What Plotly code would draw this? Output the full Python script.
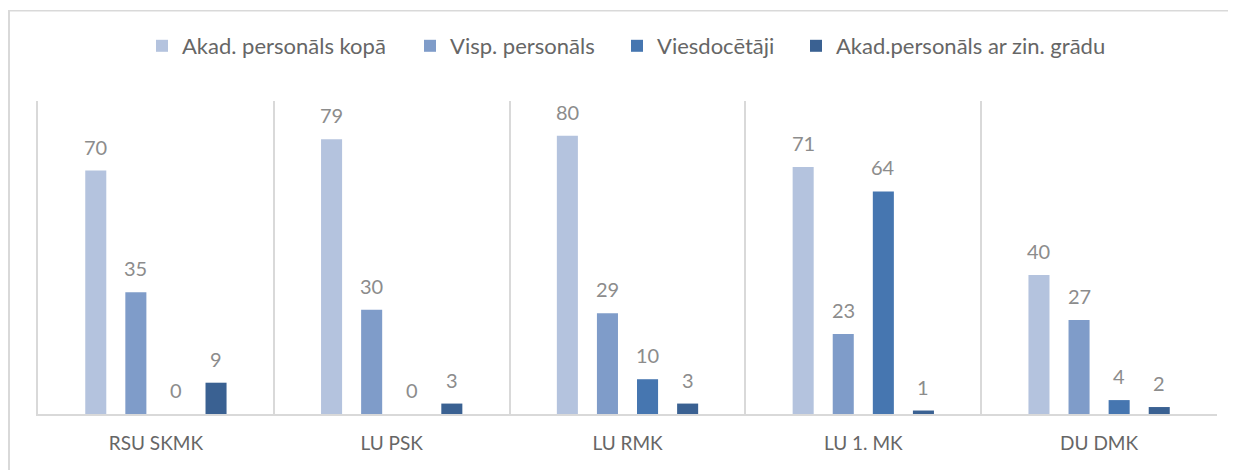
import plotly.graph_objects as go

categories = ["RSU SKMK", "LU PSK", "LU RMK", "LU 1. MK", "DU DMK"]
series_names = ["Akad. personāls kopā", "Visp. personāls", "Viesdocētāji", "Akad.personāls ar zin. grādu"]
akad_kopa = [70, 79, 80, 71, 40]
visp_pers = [35, 30, 29, 23, 27]
viesdoc = [0, 0, 10, 64, 4]
akad_zin = [9, 3, 3, 1, 2]
colors = ["#B4C3DE", "#7F9CC9", "#4676B0", "#3A6192"]
series_vals = [akad_kopa, visp_pers, viesdoc, akad_zin]

# page has an 8px body margin; positions below are in figure pixels
W, H = 1236, 470
ML, MR, MT, MB = 30, 27, 93, 64
PW, PH = W - ML - MR, H - MT - MB
BARGAP = 0.32
CATW = PW / len(categories)
SLOT = CATW * (1 - BARGAP) / len(series_vals)

def px2paper_x(px):
    return (px - ML) / PW

def px2paper_y(py):
    return (H - MB - py) / PH

legend_marker_px = [148, 416, 623, 802]
legend_keys = ["legend", "legend2", "legend3", "legend4"]

fig = go.Figure()
annotations = []
for i, (name, vals, col) in enumerate(zip(series_names, series_vals, colors)):
    fig.add_trace(go.Bar(
        x=categories, y=vals, name=name, marker_color=col, marker_line_width=0,
        legend=legend_keys[i],
    ))
    xoff = (i - (len(series_vals) - 1) / 2) * SLOT
    for c, v in zip(categories, vals):
        annotations.append(dict(
            x=c, y=v, xref="x", yref="y", text=str(v), showarrow=False,
            xshift=xoff, yshift=24, yanchor="middle", xanchor="center",
            font=dict(family="Lato", size=20, color="#8C8C8C"),
        ))

legend_common = dict(orientation="h", xanchor="left", yanchor="middle",
                     font=dict(family="Lato", size=22, color="#666666"),
                     bgcolor="rgba(0,0,0,0)", borderwidth=0)
layout_legends = {}
for k, mpx in zip(legend_keys, legend_marker_px):
    layout_legends[k] = dict(legend_common, x=px2paper_x(mpx - 14), y=px2paper_y(38))

fig.update_layout(
    width=W, height=H,
    margin=dict(l=ML, r=MR, t=MT, b=MB, autoexpand=False),
    paper_bgcolor="white", plot_bgcolor="white",
    barmode="group", bargap=BARGAP, bargroupgap=0.475,
    font=dict(family="Lato", color="#666666"),
    showlegend=True,
    xaxis=dict(showgrid=True, gridcolor="#D9D9D9", gridwidth=1.5, tickson="boundaries",
               ticks="", showline=True, linecolor="#D9D9D9", linewidth=2,
               tickfont=dict(family="Lato", size=19, color="#666666"), ticklabelstandoff=11,
               range=[-0.5, 4.5]),
    yaxis=dict(range=[0, 90], showticklabels=False, showgrid=False, zeroline=False,
               ticks="", showline=True, linecolor="#D9D9D9", linewidth=1.5),
    annotations=annotations,
    shapes=[
        dict(type="line", xref="paper", yref="paper", x0=px2paper_x(1), x1=px2paper_x(1240),
             y0=px2paper_y(2.75), y1=px2paper_y(2.75), line=dict(color="#D9D9D9", width=1.5)),
        dict(type="line", xref="paper", yref="paper", x0=px2paper_x(1), x1=px2paper_x(1),
             y0=px2paper_y(2), y1=px2paper_y(475), line=dict(color="#D9D9D9", width=2)),
    ],
    **layout_legends,
)
fig.write_html("out.html")
